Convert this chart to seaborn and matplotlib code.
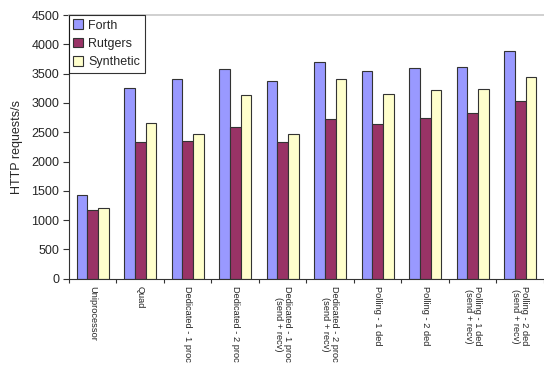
import matplotlib
matplotlib.use("Agg")
import matplotlib.pyplot as plt
import seaborn as sns
import pandas as pd
import numpy as np

categories = [
    "Uniprocessor",
    "Quad",
    "Dedicated - 1 proc",
    "Dedicated - 2 proc",
    "Dedicated - 1 proc\n(send + recv)",
    "Dedicated - 2 proc\n(send + recv)",
    "Polling - 1 ded",
    "Polling - 2 ded",
    "Polling - 1 ded\n(send + recv)",
    "Polling - 2 ded\n(send + recv)",
]
forth = [1420, 3250, 3400, 3575, 3380, 3695, 3540, 3600, 3610, 3890]
rutgers = [1180, 2330, 2345, 2590, 2335, 2730, 2635, 2740, 2835, 3025]
synthetic = [1210, 2655, 2470, 3135, 2470, 3405, 3160, 3215, 3235, 3450]
series_names = ["Forth", "Rutgers", "Synthetic"]
colors = ["#9999FF", "#993366", "#FFFFCC"]
yticks = list(range(0, 4501, 500))

rows = []
for name, vals in zip(series_names, [forth, rutgers, synthetic]):
    for c, v in zip(categories, vals):
        rows.append({"category": c, "series": name, "value": v})
df = pd.DataFrame(rows)

sns.set_theme(style="white")
plt.rcParams["font.family"] = ["Liberation Sans", "DejaVu Sans"]

fig = plt.figure(figsize=(5.44, 3.65), dpi=100)
ax = fig.add_axes([0.1268, 0.2364, 0.8732, 0.7225])

sns.barplot(data=df, x="category", y="value", hue="series", order=categories,
            hue_order=series_names, palette=colors, width=0.68, gap=0,
            edgecolor="#333333", linewidth=0.8, ax=ax, saturation=1)

ax.set_xlim(-0.5, len(categories) - 0.5)
ax.set_ylim(0, 4500)
ax.set_yticks(yticks)
ax.set_yticklabels([str(t) for t in yticks], fontsize=9)
ax.set_ylabel("HTTP requests/s", fontsize=9, labelpad=6)
ax.set_xlabel("")
ax.set_xticks(range(len(categories)))
ax.set_xticklabels(categories, rotation=270, fontsize=6.7, va="top", ha="center",
                   linespacing=1.05, multialignment="center")
ax.tick_params(axis="x", which="major", length=0, pad=5.5)
ax.set_xticks(np.arange(-0.5, len(categories) - 0.4, 1.0), minor=True)
ax.tick_params(axis="x", which="minor", length=3, width=0.8, color="#333333", direction="out", bottom=True)
ax.tick_params(axis="y", length=4, width=0.8, color="#333333", direction="out", left=True, pad=3)

for s in ["left", "bottom"]:
    ax.spines[s].set_color("#333333")
    ax.spines[s].set_linewidth(0.8)
ax.spines["top"].set_color("#C8C8C8")
ax.spines["top"].set_linewidth(1.2)
ax.spines["right"].set_visible(False)

leg = ax.legend(loc="upper left", bbox_to_anchor=(0, 1), borderaxespad=0,
                fontsize=9, frameon=True, fancybox=False, handlelength=0.8,
                handleheight=0.8, handletextpad=0.4, labelspacing=0.5,
                borderpad=0.35, title=None)
leg.get_frame().set_edgecolor("#000000")
leg.get_frame().set_linewidth(0.8)

fig.savefig("out.png", dpi=100)
